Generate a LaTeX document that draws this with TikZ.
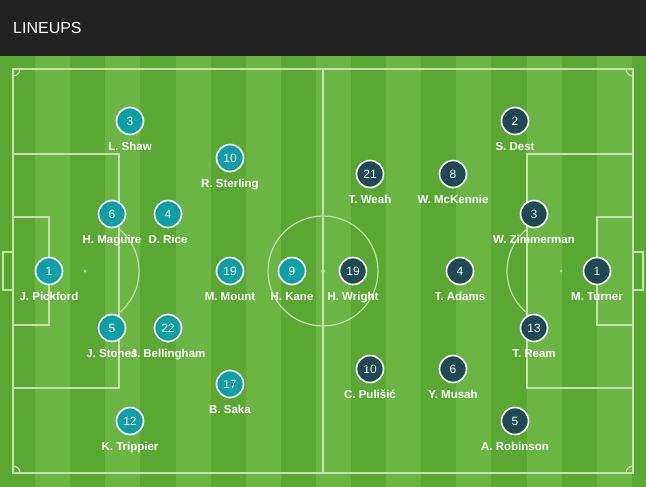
\documentclass[tikz,border=0pt]{standalone}
\usepackage{fontspec}
\setmainfont{Liberation Sans}
\usetikzlibrary{positioning}
\definecolor{header}{HTML}{222222}
\definecolor{grassdark}{HTML}{5AA832}
\definecolor{grasslight}{HTML}{6BB543}
\definecolor{pitchline}{HTML}{C2E3AE}
\definecolor{engteal}{HTML}{0E9FA6}
\definecolor{usadark}{HTML}{1F4A53}

\begin{document}
\begin{tikzpicture}[x=1pt, y=-1pt, node distance=27pt, on grid,
    eng/.style={circle, draw=white, line width=1.6pt, fill=engteal, minimum size=27pt,
        inner sep=0pt, text=white, font=\fontsize{12}{14}\selectfont},
    usa/.style={eng, fill=usadark},
    plname/.style={text=white, inner sep=0pt, text height=8.4pt, text depth=2.6pt,
        font=\bfseries\fontsize{11.5}{13}\selectfont},
    pline/.style={draw=pitchline, line width=1.2pt}]
    \useasboundingbox (0,0) rectangle (646,487);
    \fill[header] (0,0) rectangle (646,56);
    \node[anchor=west, text=white, inner sep=0pt, font=\fontsize{16}{19}\selectfont] (title) at (13,28) {LINEUPS};
    \fill[grassdark] (0,56) rectangle (646,487);
    \fill[grasslight] (35.1,56) rectangle (70.2,487);
    \fill[grasslight] (105.3,56) rectangle (140.4,487);
    \fill[grasslight] (175.5,56) rectangle (210.6,487);
    \fill[grasslight] (245.7,56) rectangle (280.8,487);
    \fill[grasslight] (315.9,56) rectangle (351.0,487);
    \fill[grasslight] (386.1,56) rectangle (421.2,487);
    \fill[grasslight] (456.3,56) rectangle (491.4,487);
    \fill[grasslight] (526.5,56) rectangle (561.6,487);
    \fill[grasslight] (596.7,56) rectangle (631.8,487);
    % pitch
    \draw[pline] (13,69) rectangle (633,473);
    \draw[pline] (323,69) -- (323,473);
    \draw[pline] (323,271) circle (55pt);
    \fill[pitchline] (323,271) circle (2pt);
    \draw[pline] (13,154) rectangle (119,388);
    \draw[pline] (13,217) rectangle (49,325);
    \draw[pline] (3,252) rectangle (13,290);
    \fill[pitchline] (85,271) circle (1.5pt);
    \draw[pline] (119,313) arc[start angle=-51, end angle=51, radius=54pt];
    \draw[pline] (527,154) rectangle (633,388);
    \draw[pline] (597,217) rectangle (633,325);
    \draw[pline] (633,252) rectangle (643,290);
    \fill[pitchline] (561,271) circle (1.5pt);
    \draw[pline] (527,229) arc[start angle=129, end angle=231, radius=54pt];
    \draw[pline] (20,69) arc[start angle=0, end angle=-90, radius=7pt];
    \draw[pline] (626,69) arc[start angle=180, end angle=270, radius=7pt];
    \draw[pline] (13,466) arc[start angle=90, end angle=0, radius=7pt];
    \draw[pline] (626,473) arc[start angle=180, end angle=90, radius=7pt];
    % England
    \node[eng] (pickford) at (49,271) {1};
    \node[eng] (shaw) at (130,121) {3};
    \node[eng] (maguire) at (112,214) {6};
    \node[eng] (rice) at (168,214) {4};
    \node[eng] (stones) at (112,328) {5};
    \node[eng] (bellingham) at (168,328) {22};
    \node[eng] (trippier) at (130,421) {12};
    \node[eng] (sterling) at (230,158) {10};
    \node[eng] (mount) at (230,271) {19};
    \node[eng] (saka) at (230,384) {17};
    \node[eng] (kane) at (292,271) {9};
    \node[plname, below=of pickford] (pickford_n) {J. Pickford};
    \node[plname, below=of shaw] (shaw_n) {L. Shaw};
    \node[plname, below=of maguire] (maguire_n) {H. Maguire};
    \node[plname, below=of rice] (rice_n) {D. Rice};
    \node[plname, below=of stones] (stones_n) {J. Stones};
    \node[plname, below=of bellingham] (bellingham_n) {J. Bellingham};
    \node[plname, below=of trippier] (trippier_n) {K. Trippier};
    \node[plname, below=of sterling] (sterling_n) {R. Sterling};
    \node[plname, below=of mount] (mount_n) {M. Mount};
    \node[plname, below=of saka] (saka_n) {B. Saka};
    \node[plname, below=of kane] (kane_n) {H. Kane};
    % USA
    \node[usa] (turner) at (597,271) {1};
    \node[usa] (dest) at (515,121) {2};
    \node[usa] (zimmerman) at (534,214) {3};
    \node[usa] (ream) at (534,328) {13};
    \node[usa] (robinson) at (515,421) {5};
    \node[usa] (adams) at (460,271) {4};
    \node[usa] (mckennie) at (453,174) {8};
    \node[usa] (musah) at (453,369) {6};
    \node[usa] (weah) at (370,174) {21};
    \node[usa] (pulisic) at (370,369) {10};
    \node[usa] (wright) at (353,271) {19};
    \node[plname, below=of turner] (turner_n) {M. Turner};
    \node[plname, below=of dest] (dest_n) {S. Dest};
    \node[plname, below=of zimmerman] (zimmerman_n) {W. Zimmerman};
    \node[plname, below=of ream] (ream_n) {T. Ream};
    \node[plname, below=of robinson] (robinson_n) {A. Robinson};
    \node[plname, below=of adams] (adams_n) {T. Adams};
    \node[plname, below=of mckennie] (mckennie_n) {W. McKennie};
    \node[plname, below=of musah] (musah_n) {Y. Musah};
    \node[plname, below=of weah] (weah_n) {T. Weah};
    \node[plname, below=of pulisic] (pulisic_n) {C. Pulišić};
    \node[plname, below=of wright] (wright_n) {H. Wright};
\end{tikzpicture}
\end{document}
